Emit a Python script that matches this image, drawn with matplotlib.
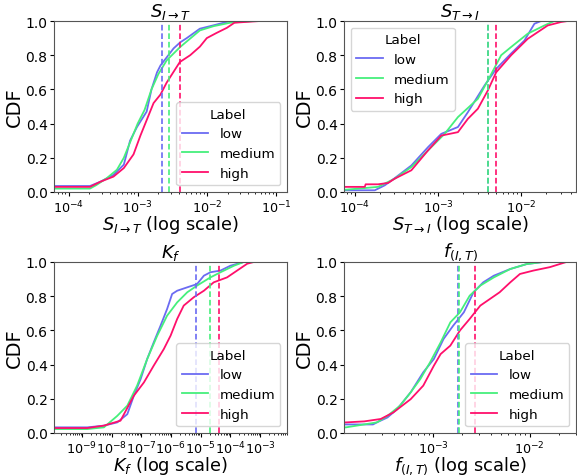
import numpy as np
import matplotlib
matplotlib.use("Agg")
import matplotlib.pyplot as plt
from matplotlib.ticker import LogLocator

# CDF curves: x as log10(value), y as cumulative fraction
labels = ["low", "medium", "high"]
colors = ["#6b6bf2", "#45ef7c", "#ff0f6b"]

# panel 1: S_{I->T}
sit_low_x = [-5.2, -3.69, -3.54, -3.35, -3.2, -3.11, -3.01, -2.87, -2.80, -2.72, -2.67, -2.48, -2.385, -2.29, -2.1, -1.9, -1.66, -1.6]
sit_low_y = [0.035, 0.035, 0.06, 0.10, 0.16, 0.30, 0.38, 0.47, 0.60, 0.70, 0.74, 0.84, 0.875, 0.90, 0.955, 0.975, 1.0, 1.0]
sit_med_x = [-5.2, -3.69, -3.6, -3.45, -3.3, -3.2, -3.1, -3.0, -2.9, -2.8, -2.7, -2.58, -2.385, -2.1, -1.9, -1.66, -1.33, -1.0]
sit_med_y = [0.02, 0.02, 0.04, 0.08, 0.13, 0.20, 0.30, 0.40, 0.48, 0.60, 0.69, 0.77, 0.848, 0.945, 0.97, 0.99, 1.0, 1.0]
sit_high_x = [-5.2, -3.69, -3.54, -3.35, -3.2, -3.06, -2.96, -2.87, -2.77, -2.67, -2.58, -2.39, -2.24, -2.1, -2.0, -1.86, -1.71, -1.6, -1.23]
sit_high_y = [0.03, 0.03, 0.06, 0.09, 0.14, 0.22, 0.33, 0.42, 0.52, 0.57, 0.64, 0.76, 0.80, 0.85, 0.90, 0.93, 0.96, 0.99, 1.0]
sit_means = [-2.643, -2.548, -2.389]

# panel 2: S_{T->I}
sti_low_x = [-5.0, -3.76, -3.64, -3.52, -3.32, -3.12, -2.96, -2.76, -2.64, -2.44, -2.30, -2.12, -1.96, -1.84, -1.76]
sti_low_y = [0.01, 0.01, 0.039, 0.081, 0.155, 0.262, 0.34, 0.38, 0.467, 0.623, 0.72, 0.81, 0.886, 0.984, 1.0]
sti_med_x = [-5.0, -4.12, -3.72, -3.52, -3.32, -3.12, -2.92, -2.76, -2.52, -2.40, -2.24, -2.12, -1.92, -1.72, -1.60, -1.58]
sti_med_y = [0.013, 0.013, 0.03, 0.078, 0.146, 0.243, 0.34, 0.438, 0.545, 0.652, 0.80, 0.848, 0.926, 0.974, 1.0, 1.0]
sti_high_x = [-5.0, -3.88, -3.87, -3.72, -3.60, -3.52, -3.32, -3.12, -2.96, -2.76, -2.64, -2.52, -2.40, -2.30, -2.12, -1.92, -1.80, -1.68, -1.52, -1.44]
sti_high_y = [0.03, 0.03, 0.045, 0.045, 0.053, 0.078, 0.127, 0.243, 0.33, 0.35, 0.428, 0.487, 0.594, 0.70, 0.80, 0.896, 0.935, 0.974, 0.994, 1.0]
sti_means = [-2.40, -2.394, -2.30]

# panel 3: K_f
kf_low_x = [-11, -8.82, -8.26, -7.81, -7.47, -7.25, -7.02, -6.80, -6.58, -6.35, -6.13, -5.96, -5.79, -5.45, -5.12, -4.89, -4.67, -4.33, -4.0, -3.55, -3.3]
kf_low_y = [0.033, 0.033, 0.043, 0.062, 0.11, 0.218, 0.316, 0.433, 0.53, 0.628, 0.725, 0.813, 0.832, 0.852, 0.871, 0.92, 0.94, 0.95, 0.978, 1.0, 1.0]
kf_med_x = [-11, -8.82, -8.26, -7.81, -7.47, -7.14, -6.80, -6.46, -6.13, -5.79, -5.45, -5.12, -4.67, -4.33, -3.88, -3.55, -2.6]
kf_med_y = [0.023, 0.023, 0.033, 0.10, 0.16, 0.277, 0.433, 0.57, 0.686, 0.764, 0.823, 0.862, 0.91, 0.94, 0.978, 1.0, 1.0]
kf_high_x = [-11, -8.82, -8.26, -7.70, -7.25, -6.91, -6.58, -6.24, -6.01, -5.79, -5.57, -5.23, -4.89, -4.56, -4.11, -3.77, -3.43, -3.21, -2.4]
kf_high_y = [0.029, 0.029, 0.043, 0.072, 0.218, 0.296, 0.394, 0.491, 0.57, 0.667, 0.745, 0.794, 0.832, 0.881, 0.91, 0.95, 0.99, 1.0, 1.0]
kf_means = [-5.15, -4.69, -4.37]

# panel 4: f_(I,T)
fit_low_x = [-5.0, -3.62, -3.58, -3.47, -3.37, -3.23, -3.10, -2.99, -2.89, -2.79, -2.68, -2.58, -2.48, -2.37, -2.20, -2.03, -1.86, -1.77]
fit_low_y = [0.05, 0.05, 0.062, 0.091, 0.14, 0.238, 0.355, 0.433, 0.55, 0.628, 0.706, 0.823, 0.881, 0.92, 0.959, 0.988, 1.0, 1.0]
fit_med_x = [-5.0, -3.9, -3.58, -3.47, -3.34, -3.23, -3.13, -3.03, -2.92, -2.82, -2.72, -2.62, -2.51, -2.37, -2.20, -2.03, -1.86, -1.77]
fit_med_y = [0.033, 0.033, 0.062, 0.10, 0.16, 0.238, 0.316, 0.413, 0.53, 0.647, 0.706, 0.803, 0.862, 0.91, 0.959, 0.988, 1.0, 1.0]
fit_high_x = [-5.0, -3.9, -3.71, -3.54, -3.41, -3.23, -3.10, -2.99, -2.92, -2.82, -2.72, -2.62, -2.51, -2.41, -2.31, -2.20, -2.10, -1.96, -1.79, -1.62]
fit_high_y = [0.062, 0.062, 0.068, 0.082, 0.12, 0.198, 0.277, 0.394, 0.462, 0.511, 0.6, 0.667, 0.745, 0.784, 0.823, 0.881, 0.93, 0.95, 0.97, 1.0]
fit_means = [-2.74, -2.73, -2.56]

names = [r"$S_{I\rightarrow T}$", r"$S_{T\rightarrow I}$", r"$K_f$", r"$f_{(I,T)}$"]
xlims = [(-4.21, -0.84), (-4.13, -1.34), (-9.94, -2.09), (-3.92, -1.52)]
legend_locs = ["lower right", "upper left", "lower right", "lower right"]

curves = [
    [(sit_low_x, sit_low_y), (sit_med_x, sit_med_y), (sit_high_x, sit_high_y)],
    [(sti_low_x, sti_low_y), (sti_med_x, sti_med_y), (sti_high_x, sti_high_y)],
    [(kf_low_x, kf_low_y), (kf_med_x, kf_med_y), (kf_high_x, kf_high_y)],
    [(fit_low_x, fit_low_y), (fit_med_x, fit_med_y), (fit_high_x, fit_high_y)],
]
means = [sit_means, sti_means, kf_means, fit_means]

W, H = 577, 477
fig = plt.figure(figsize=(W / 100, H / 100), dpi=100)
# axes boxes in pixels: left, top, right, bottom
boxes = [(54, 22, 287, 193), (344, 22, 576, 193), (54, 263, 287, 434), (344, 263, 576, 434)]

for k in range(4):
    l, t, r, b = boxes[k]
    ax = fig.add_axes([l / W, 1 - b / H, (r - l) / W, (b - t) / H])
    for (xs, ys), lab, c in zip(curves[k], labels, colors):
        ax.plot(10 ** np.array(xs), ys, color=c, lw=1.3, label=lab)
    for m, c in zip(means[k], colors):
        ax.axvline(10 ** m, color=c, lw=1.2, linestyle=(0, (3.4, 1.7)))
    ax.set_xscale("log")
    ax.xaxis.set_major_locator(LogLocator(base=10, numticks=20))
    ax.xaxis.set_minor_locator(LogLocator(base=10, subs=np.arange(2, 10), numticks=20))
    ax.set_xlim(10 ** xlims[k][0], 10 ** xlims[k][1])
    ax.set_ylim(0, 1)
    ax.set_yticks([0, 0.2, 0.4, 0.6, 0.8, 1.0])
    ax.tick_params(which="major", length=2.6, pad=2)
    ax.tick_params(which="minor", length=1.5)
    ax.tick_params(axis="y", labelsize=10)
    ax.tick_params(axis="x", labelsize=9.2)
    for s in ax.spines.values():
        s.set_color("#555555")
    ax.set_title(names[k], fontsize=13, pad=3)
    ax.set_xlabel(names[k] + " (log scale)", fontsize=12.8)
    ax.xaxis.set_label_coords(0.5, -0.125)
    ax.xaxis.label.set_va("top")
    ax.set_ylabel("CDF", fontsize=14, labelpad=1)
    ax.legend(title="Label", loc=legend_locs[k], fontsize=9.7, title_fontsize=9.7)

fig.savefig("out.png", dpi=100)
